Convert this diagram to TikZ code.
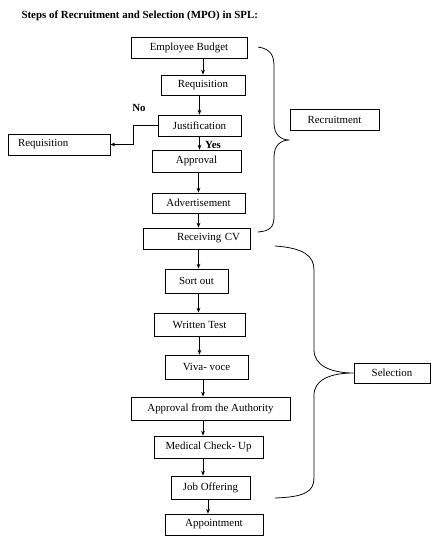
\documentclass[tikz,border=0pt]{standalone}
\usepackage{fontspec}
\setmainfont{Liberation Serif}
\usepackage{tikz}
\usetikzlibrary{arrows.meta}

\begin{document}
\begin{tikzpicture}[
  x=1pt, y=-1pt, scale=0.92, transform shape, >={Stealth[length=4.5pt,width=3.5pt]},
  stepbox/.style={draw=black, line width=0.7pt, minimum height=21pt, inner sep=2pt, font=\fontsize{10.9}{13}\selectfont, align=center},
  arrow/.style={->, line width=0.7pt, black},
  brace/.style={line width=0.7pt, black},
  tag/.style={font=\fontsize{10.9}{13}\selectfont\bfseries}
]
\useasboundingbox (0,0) rectangle (434,540);

\node[tag, anchor=west] (title) at (18,16) {Steps of Recruitment and Selection (MPO) in SPL:};

% recruitment part
\node[stepbox, minimum width=116pt] (budget) at (189,47.5) {Employee Budget};
\node[stepbox, minimum width=84pt, minimum height=20pt] (req) at (203,85) {Requisition};
\node[stepbox, minimum width=83pt] (just) at (199.5,125.5) {Justification};
\node[stepbox, inner xsep=10pt, text width=82pt, align=left] (reqno) at (59,144.5) {Requisition};
\node[stepbox, minimum width=89pt, minimum height=22pt] (appr) at (196.5,161) {Approval};
\node[stepbox, minimum width=93pt, minimum height=20pt] (adv) at (198.5,203) {Advertisement};
\node[stepbox, inner xsep=10pt, text width=87pt, align=right] (recv) at (196.5,238.5) {Receiving CV};
\node[stepbox, minimum width=89pt] (recruit) at (334.5,119.5) {Recruitment};

\node[tag] (no) at (139,108) {No};
\node[tag] (yes) at (213,145) {Yes};

% selection part
\node[stepbox, minimum width=63pt, minimum height=24pt] (sort) at (196.5,281) {Sort out};
\node[stepbox, minimum width=91pt, minimum height=23pt] (written) at (199.5,324.5) {Written Test};
\node[stepbox, minimum width=83pt, minimum height=24pt] (viva) at (206.5,367) {Viva- voce};
\node[stepbox, minimum width=159pt, minimum height=23pt] (auth) at (210.5,408.5) {Approval from the Authority};
\node[stepbox, minimum width=109pt, minimum height=22pt] (medical) at (208.5,447) {Medical Check- Up};
\node[stepbox, minimum width=79pt, minimum height=23pt] (job) at (210.5,487.5) {Job Offering};
\node[stepbox, minimum width=98pt] (appt) at (214,524.5) {Appointment};
\node[stepbox, minimum width=76pt, minimum height=20pt] (select) at (392,373) {Selection};

% flow
\draw[arrow] (req.north |- budget.south) -- (req.north);
\draw[arrow] (just.north |- req.south) -- (just.north);
\draw[arrow] (just.south) -- (just.south |- appr.north);
\draw[arrow] (just.west) -- ++(-24,0) |- (reqno.east);
\draw[arrow] (adv.north |- appr.south) -- (adv.north);
\draw[arrow] (adv.south) -- (adv.south |- recv.north);
\draw[arrow] (adv.south |- recv.south) -- (adv.south |- sort.north);
\draw[arrow] (adv.south |- sort.south) -- (adv.south |- written.north);
\draw[arrow] (written.south) -- (written.south |- viva.north);
\draw[arrow] (req.south |- viva.south) -- (req.south |- auth.north);
\draw[arrow] (req.south |- auth.south) -- (req.south |- medical.north);
\draw[arrow] (req.south |- medical.south) -- (req.south |- job.north);
\draw[arrow] (job.south -| 208,0) -- (appt.north -| 208,0);

% braces
\draw[brace] (258,47) .. controls (272,49) and (274,57) .. (274,67) -- (274,123)
  .. controls (274,134) and (280,140) .. (recruit.west |- 0,140)
  .. controls (280,140) and (274,146) .. (274,157) -- (274,217)
  .. controls (274,227) and (270,231) .. (258,232);
\draw[brace] (275,246) .. controls (304,248) and (314,256) .. (314,270) -- (314,350)
  .. controls (314,365) and (330,373) .. (select.west)
  .. controls (330,373) and (314,380) .. (314,395) -- (314,478)
  .. controls (314,492) and (304,497) .. (275,498);

\end{tikzpicture}
\end{document}
